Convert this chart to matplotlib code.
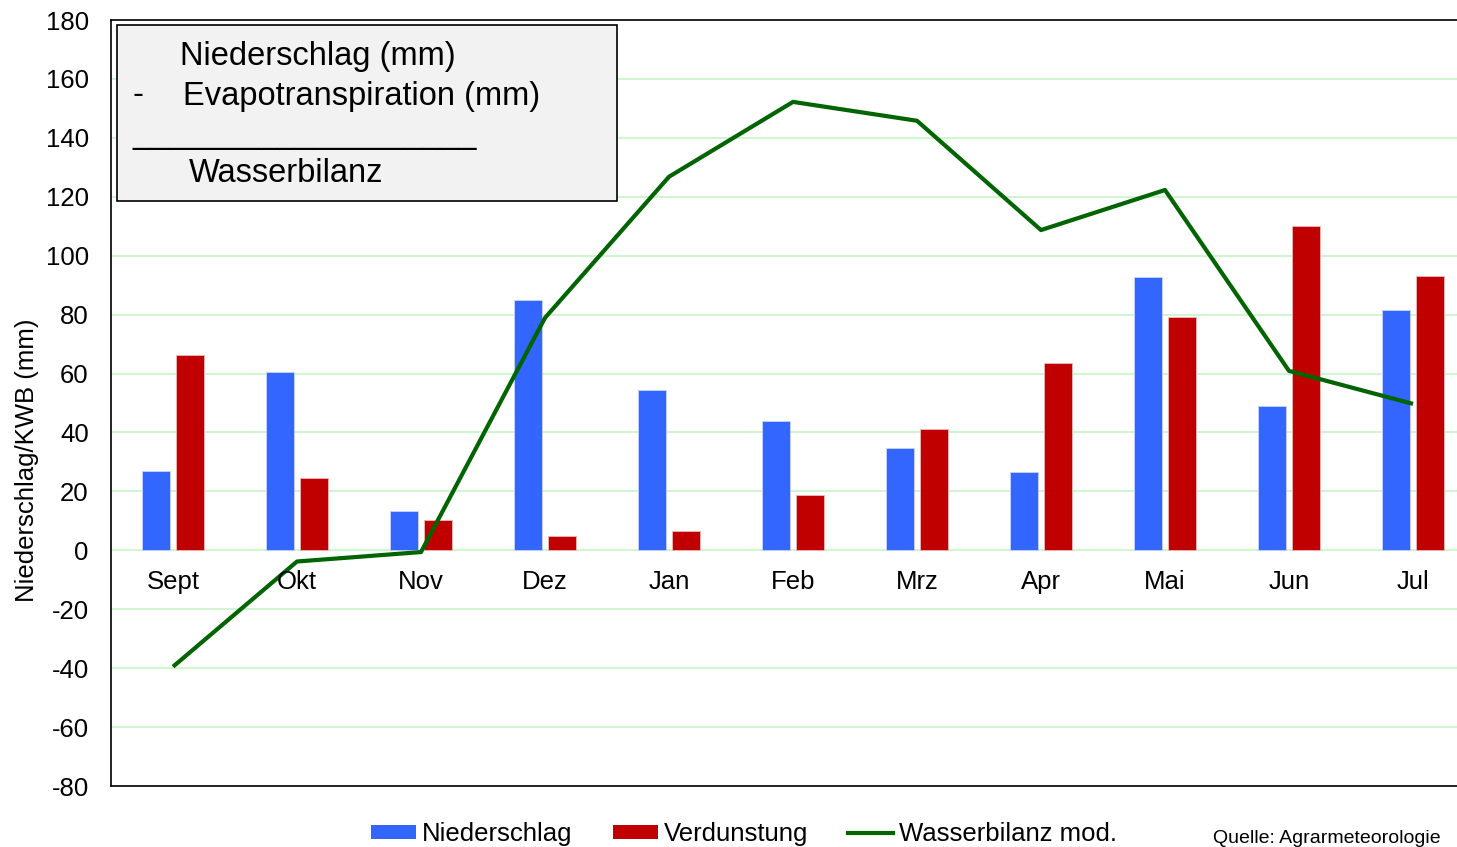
import matplotlib
matplotlib.use("Agg")
import matplotlib.pyplot as plt
from matplotlib.patches import Patch, Rectangle
from matplotlib.lines import Line2D
import numpy as np

plt.rcParams['font.family'] = ['Liberation Sans', 'DejaVu Sans']

months = ["Sept", "Okt", "Nov", "Dez", "Jan", "Feb", "Mrz", "Apr", "Mai", "Jun", "Jul"]
niederschlag = [27, 60.5, 13.3, 85, 54.4, 43.9, 34.7, 26.6, 92.8, 49, 81.6]
verdunstung = [66.3, 24.6, 10.3, 4.9, 6.6, 18.8, 41.2, 63.6, 79.3, 110, 93.2]
wasserbilanz = [-39.5, -3.8, -0.6, 78.9, 126.8, 152.2, 145.8, 108.7, 122.3, 60.9, 49.7]
yticks = list(range(-80, 181, 20))

fig = plt.figure(figsize=(14.57, 8.47), dpi=100)
ax = fig.add_axes([111/1457, 1-786/847, (1475-111)/1457, (786-20)/847])

x = np.arange(len(months))
w = 0.226
off = 0.141
ax.bar(x - off, niederschlag, width=w, color="#3366FF", edgecolor="#c8d4ff", linewidth=0.6, zorder=3)
ax.bar(x + off, verdunstung, width=w, color="#C00000", edgecolor="#f0b8b8", linewidth=0.6, zorder=3)
ax.plot(x, wasserbilanz, color="#006400", linewidth=3, zorder=4, solid_capstyle='butt')

ax.set_xlim(-0.5, len(months) - 0.5)
ax.set_ylim(-80, 180)
ax.set_yticks(yticks)
ax.set_yticklabels([str(t) for t in yticks], fontsize=18.5)
ax.tick_params(axis='y', length=0, pad=16)
ax.set_xticks([])
for t in yticks:
    if t < 180:
        ax.axhline(t, color="#c6f5c6", linewidth=1.2, zorder=1)
for s in ['left', 'bottom', 'top']:
    ax.spines[s].set_linewidth(1.2)
ax.spines['right'].set_visible(False)

for i, m in enumerate(months):
    ax.annotate(m, (i, 0), xytext=(0, -14), textcoords='offset points',
                ha='center', va='top', fontsize=18.5, zorder=5)

fig.text(27/1457, 1-460/847, "Niederschlag/KWB (mm)", fontsize=18.5, rotation=90,
         ha='center', va='center')

# text box top-left
rect = Rectangle((117/1457, 1-201/847), 500/1457, 176/847, transform=fig.transFigure,
                 facecolor="#f2f2f2", edgecolor="black", linewidth=1.2, zorder=6)
fig.patches.append(rect)
fs = 23.5
fig.text(180/1457, 1-56/847, "Niederschlag (mm)", fontsize=fs, va='center', ha='left', zorder=7)
fig.text(133/1457, 1-96/847, "-", fontsize=fs, va='center', ha='left', zorder=7)
fig.text(183/1457, 1-96/847, "Evapotranspiration (mm)", fontsize=fs, va='center', ha='left', zorder=7)
fig.text(133/1457, 1-134/847, "___________________", fontsize=fs, va='center', ha='left', zorder=7)
fig.text(189/1457, 1-174/847, "Wasserbilanz", fontsize=fs, va='center', ha='left', zorder=7)

handles = [Patch(facecolor="#3366FF", edgecolor="none"),
           Patch(facecolor="#C00000", edgecolor="none"),
           Line2D([0], [0], color="#006400", linewidth=3)]
labels = ["Niederschlag", "Verdunstung", "Wasserbilanz mod."]
fig.legend(handles, labels, loc='center', bbox_to_anchor=(744/1457, 1-834/847), ncol=3,
           frameon=False, fontsize=18.5, handlelength=1.75, handleheight=0.45, handletextpad=0.23,
           columnspacing=1.55, borderpad=0)

fig.text(1213/1457, 1-838/847, "Quelle: Agrarmeteorologie", fontsize=14, va='center', ha='left')

fig.savefig("out.png", dpi=100)
